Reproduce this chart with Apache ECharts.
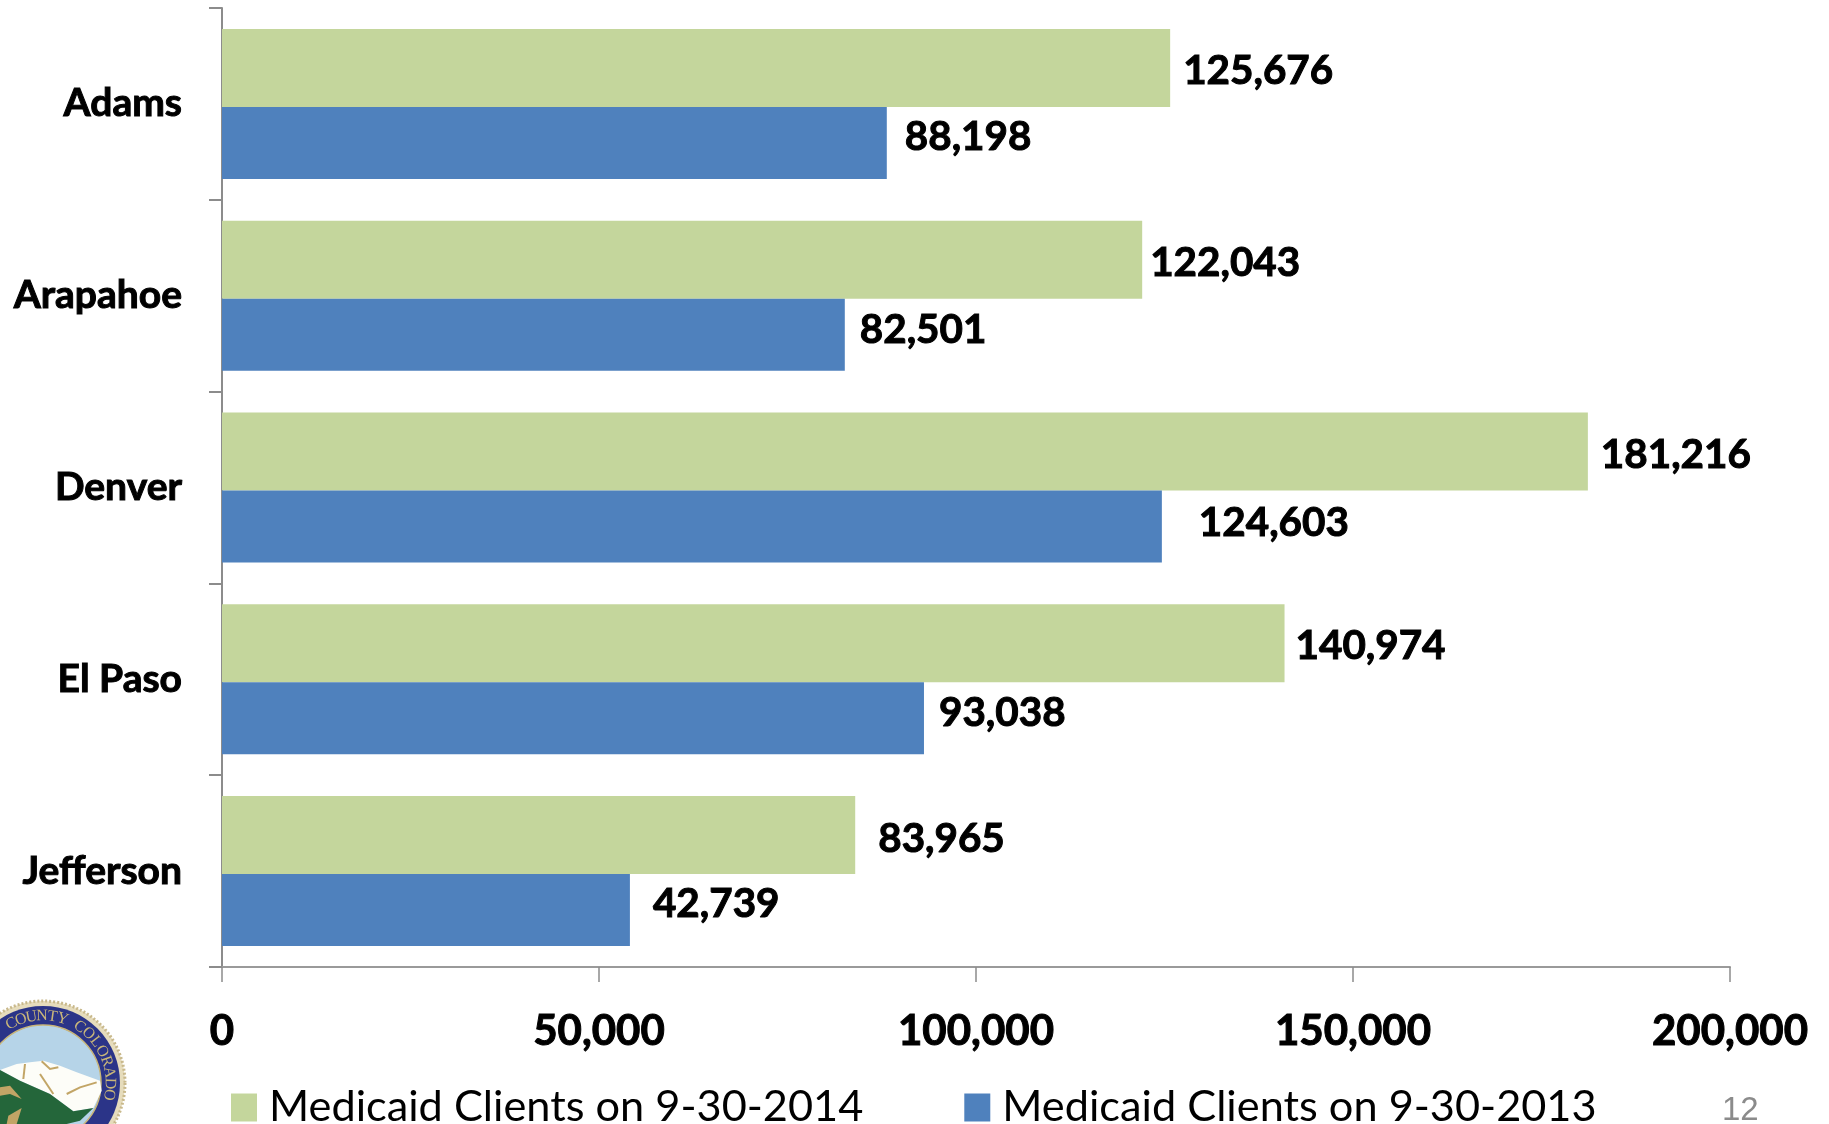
<!DOCTYPE html>
<html><head><meta charset="utf-8">
<style>html,body{margin:0;padding:0;background:#fff}#c{width:1829px;height:1124px}</style>
<script src="https://cdn.jsdelivr.net/npm/echarts@6/dist/echarts.min.js"></script>
</head><body><div id="c"></div>
<script>
const categories = ['Adams', 'Arapahoe', 'Denver', 'El Paso', 'Jefferson'];
const seriesNames = ['Medicaid Clients on 9-30-2014', 'Medicaid Clients on 9-30-2013'];
// Bar lengths as drawn in the picture
const clients2014 = [125750, 122040, 181150, 140920, 83980];
const clients2013 = [88170, 82600, 124650, 93100, 54100];
// Printed labels as shown in the picture (Jefferson 2013 label differs from its bar)
const labels2014 = ['125,676', '122,043', '181,216', '140,974', '83,965'];
const labels2013 = ['88,198', '82,501', '124,603', '93,038', '42,739'];
const valueTicks = { min: 0, max: 200000, interval: 50000 };
// Hand-placed label nudges [dx, dy], styling only
const nudge2014 = [[13, 3], [8, 3], [13, 3], [11, 3], [23, 4]];
const nudge2013 = [[18, -6], [15, -5], [37, -4], [15, -5], [23, -6]];

const FONT = 'Lato';
const BOLD = { fontFamily: FONT, fontWeight: 'bold', color: '#000', textBorderColor: '#000', textBorderWidth: 1 };
const chart = echarts.init(document.getElementById('c'), null, { renderer: 'canvas' });
function mk(vals, labs, nudges) {
  return vals.map((v, i) => ({ value: v, label: { formatter: labs[i], offset: nudges[i] } }));
}
const barLabel = Object.assign({ show: true, position: 'right', distance: 0, fontSize: 40.4 }, BOLD);

// County seal, decoration in the bottom-left corner
const C = { x: 43, y: 1083 };
const z = pts => pts.map(p => [p[0] / 3, 984 + p[1] / 3]);
function arcText(text, a0, a1, r) {
  return text.split('').map((ch, i) => {
    const a = (a0 + (a1 - a0) * i / (text.length - 1)) * Math.PI / 180;
    return { type: 'text', x: C.x + r * Math.sin(a), y: C.y - r * Math.cos(a), rotation: -a,
      style: { text: ch, fontFamily: 'Liberation Serif', fontSize: 16, fill: '#c9b67a', align: 'center', verticalAlign: 'middle' } };
  });
}
const gold = pts => ({ type: 'polyline', shape: { points: z(pts) }, style: { stroke: '#c2a566', lineWidth: 2, fill: null } });
const sealParts = [
  { type: 'circle', shape: { cx: C.x, cy: C.y, r: 82 }, style: { fill: '#e6dcbc' } },
  { type: 'circle', shape: { cx: C.x, cy: C.y, r: 82 }, style: { fill: null, stroke: '#c9b98c', lineWidth: 3, lineDash: [2, 2] } },
  { type: 'circle', shape: { cx: C.x, cy: C.y, r: 77 }, style: { fill: '#2b3488' } },
  { type: 'circle', shape: { cx: C.x, cy: C.y, r: 58 }, style: { fill: '#b6d4e8', stroke: '#c9b67a', lineWidth: 1.5 } },
  { type: 'polygon', shape: { points: z([[0,258],[50,240],[90,235],[130,230],[180,245],[230,265],[300,290],[305,320],[280,372],[220,382],[150,330],[60,290]]) }, style: { fill: '#fdfdf8' } },
  { type: 'polygon', shape: { points: z([[0,258],[60,290],[150,330],[220,382],[280,372],[240,410],[200,420],[0,420]]) }, style: { fill: '#24663a' } },
  gold([[125,232],[150,255],[175,250]]), gold([[75,240],[70,285]]), gold([[120,270],[160,330]]),
  gold([[200,330],[240,310],[290,295]]),
  { type: 'polygon', shape: { points: z([[0,310],[30,305],[65,345],[30,330],[0,335]]) }, style: { fill: '#c2a566' } },
  { type: 'polygon', shape: { points: z([[25,395],[65,372],[50,420],[20,420]]) }, style: { fill: '#c2a566' } }
].concat(arcText('COUNTY', -28, 17, 67), arcText('COLORADO', 33, 100, 67));

chart.setOption({
  animation: false,
  grid: { left: 222, right: 99, top: 8, height: 959, containLabel: false },
  legend: {
    left: 226, top: 1081, itemWidth: 26, itemHeight: 28, itemGap: 101,
    icon: 'rect',
    textStyle: { fontFamily: FONT, fontSize: 43.3, color: '#000', padding: [0, 0, 0, 7] },
    data: seriesNames
  },
  xAxis: {
    type: 'value', min: valueTicks.min, max: valueTicks.max, interval: valueTicks.interval,
    splitLine: { show: false },
    axisLine: { show: true, lineStyle: { color: '#9a9a9a', width: 2 } },
    axisTick: { show: true, length: 15, lineStyle: { color: '#8c8c8c', width: 1.5 } },
    axisLabel: Object.assign({ margin: 43, fontSize: 42, formatter: v => v.toLocaleString('en-US') }, BOLD)
  },
  yAxis: {
    type: 'category', inverse: true, data: categories,
    axisLine: { show: true, lineStyle: { color: '#8c8c8c', width: 2 } },
    axisTick: { show: true, length: 13, lineStyle: { color: '#8c8c8c', width: 2 } },
    axisLabel: Object.assign({ margin: 40, fontSize: 39 }, BOLD)
  },
  series: [
    { name: seriesNames[0], type: 'bar', barWidth: 78, barGap: 0, itemStyle: { color: '#c4d69c' },
      label: barLabel, data: mk(clients2014, labels2014, nudge2014) },
    { name: seriesNames[1], type: 'bar', barWidth: 72, barGap: 0, itemStyle: { color: '#4f81bd' },
      label: barLabel, data: mk(clients2013, labels2013, nudge2013) }
  ],
  graphic: [
    { type: 'text', left: 1722, top: 1094, style: { text: '12', fontFamily: 'Liberation Sans', fontSize: 33, fill: '#8b8b8b' } },
    { type: 'group', silent: true, children: sealParts }
  ]
});
</script></body></html>
